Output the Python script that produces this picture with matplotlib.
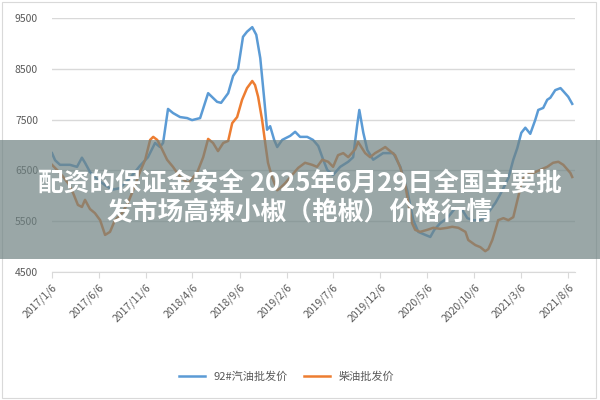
import matplotlib
matplotlib.use("Agg")
import matplotlib.pyplot as plt
import pandas as pd
from matplotlib.patches import Rectangle

# 92#汽油批发价 (blue)
gas_dates = ["2017-01-06", "2017-01-16", "2017-02-01", "2017-03-05", "2017-03-28", "2017-04-13",
             "2017-04-23", "2017-05-09", "2017-06-04", "2017-06-27", "2017-07-20", "2017-08-14",
             "2017-09-16", "2017-10-18", "2017-11-13", "2017-12-06", "2017-12-22", "2018-01-01",
             "2018-01-17", "2018-02-02", "2018-02-25", "2018-03-20", "2018-04-05", "2018-05-01",
             "2018-05-27", "2018-06-25", "2018-07-08", "2018-07-31", "2018-08-16", "2018-09-01",
             "2018-09-17", "2018-09-30", "2018-10-17", "2018-10-30", "2018-11-12", "2018-11-25",
             "2018-12-04", "2018-12-14", "2018-12-27", "2019-01-06", "2019-01-22", "2019-02-17",
             "2019-03-05", "2019-03-21", "2019-04-13", "2019-05-02", "2019-05-19", "2019-06-04",
             "2019-06-17", "2019-07-06", "2019-07-29", "2019-08-24", "2019-09-09", "2019-09-22",
             "2019-09-29", "2019-10-12", "2019-10-25", "2019-11-13", "2019-12-15", "2020-01-17",
             "2020-02-09", "2020-03-02", "2020-03-22", "2020-04-07", "2020-04-30", "2020-05-16",
             "2020-05-29", "2020-06-17", "2020-07-10", "2020-08-05", "2020-08-28", "2020-09-13",
             "2020-10-02", "2020-10-25", "2020-11-10", "2020-11-26", "2020-12-13", "2020-12-26",
             "2021-01-08", "2021-01-24", "2021-02-09", "2021-02-22", "2021-03-07", "2021-03-20",
             "2021-04-05", "2021-04-21", "2021-05-01", "2021-05-17", "2021-05-30", "2021-06-09",
             "2021-06-25", "2021-07-12", "2021-07-21", "2021-08-06", "2021-08-19"]
gas_price = [6840, 6700, 6610, 6610, 6570, 6750,
             6650, 6470, 6310, 6210, 6120, 6150,
             6350, 6590, 6760, 7040, 6960, 7040,
             7710, 7630, 7550, 7530, 7490, 7530,
             8020, 7850, 7830, 8020, 8360, 8500,
             9130, 9230, 9320, 9170, 8710, 7890,
             7300, 7370, 7100, 6960, 7100, 7180,
             7260, 7160, 7160, 7100, 6980, 6710,
             6510, 6410, 6570, 6670, 6760, 7390,
             7690, 7240, 6900, 6710, 6840, 6840,
             6570, 6110, 5520, 5290, 5230, 5190,
             5330, 5460, 5560, 5760, 5720, 5560,
             5520, 5520, 5580, 5720, 5860, 6000,
             6150, 6350, 6710, 6940, 7240, 7340,
             7220, 7490, 7690, 7730, 7890, 7930,
             8080, 8120, 8060, 7950, 7810]

# 柴油批发价 (orange)
diesel_dates = ["2017-01-06", "2017-02-01", "2017-02-27", "2017-03-15", "2017-03-31", "2017-04-13",
                "2017-04-23", "2017-05-09", "2017-05-25", "2017-06-11", "2017-06-27", "2017-07-13",
                "2017-07-29", "2017-08-21", "2017-09-09", "2017-09-26", "2017-10-18", "2017-11-04",
                "2017-11-20", "2017-11-30", "2017-12-13", "2017-12-22", "2018-01-14", "2018-02-02",
                "2018-02-25", "2018-03-23", "2018-04-21", "2018-05-11", "2018-05-27", "2018-06-12",
                "2018-06-28", "2018-07-15", "2018-07-31", "2018-08-13", "2018-08-29", "2018-09-14",
                "2018-09-30", "2018-10-17", "2018-10-26", "2018-11-05", "2018-11-18", "2018-11-28",
                "2018-12-07", "2018-12-20", "2019-01-06", "2019-01-15", "2019-02-01", "2019-02-23",
                "2019-03-15", "2019-04-06", "2019-04-29", "2019-05-15", "2019-06-01", "2019-06-20",
                "2019-07-06", "2019-07-22", "2019-08-08", "2019-08-24", "2019-09-16", "2019-09-25",
                "2019-10-18", "2019-11-03", "2019-11-19", "2019-12-06", "2019-12-22", "2020-01-07",
                "2020-01-23", "2020-02-09", "2020-02-25", "2020-03-06", "2020-03-18", "2020-03-28",
                "2020-04-13", "2020-05-06", "2020-05-26", "2020-06-17", "2020-07-10", "2020-07-26",
                "2020-08-15", "2020-09-07", "2020-09-16", "2020-10-09", "2020-10-25", "2020-11-10",
                "2020-11-20", "2020-12-03", "2020-12-13", "2020-12-22", "2021-01-08", "2021-01-24",
                "2021-02-09", "2021-02-25", "2021-03-10", "2021-03-26", "2021-04-15", "2021-05-07",
                "2021-05-30", "2021-06-18", "2021-07-05", "2021-07-21", "2021-08-13", "2021-08-19"]
diesel_price = [6610, 6450, 6250, 6060, 5820, 5780,
                5920, 5740, 5660, 5520, 5230, 5290,
                5520, 5660, 5860, 6110, 6470, 6710,
                7100, 7160, 7100, 7000, 6710, 6570,
                6370, 6250, 6450, 6760, 7120, 7040,
                6880, 7040, 7080, 7430, 7550, 7890,
                8120, 8260, 8180, 7950, 7490, 7040,
                6650, 6370, 6110, 6150, 6250, 6410,
                6550, 6650, 6610, 6570, 6710, 6670,
                6570, 6800, 6840, 6760, 6920, 7060,
                6840, 6760, 6840, 6900, 6960, 6880,
                6800, 6550, 6210, 5860, 5460, 5330,
                5290, 5330, 5370, 5350, 5370, 5390,
                5370, 5290, 5130, 5030, 4990, 4910,
                4950, 5130, 5330, 5520, 5560, 5520,
                5580, 5980, 6310, 6450, 6450, 6510,
                6570, 6650, 6670, 6610, 6450, 6370]

tick_dates = ["2017-01-06", "2017-06-06", "2017-11-06", "2018-04-06", "2018-09-06", "2019-02-06",
              "2019-07-06", "2019-12-06", "2020-05-06", "2020-10-06", "2021-03-06", "2021-08-06"]
tick_labels = ["2017/1/6", "2017/6/6", "2017/11/6", "2018/4/6", "2018/9/6", "2019/2/6",
               "2019/7/6", "2019/12/6", "2020/5/6", "2020/10/6", "2021/3/6", "2021/8/6"]
y_ticks = [4500, 5500, 6500, 7500, 8500, 9500]

banner = "配资的保证金安全 2025年6月29日全国主要批\n发市场高辣小椒（艳椒）价格行情"

plt.rcParams["font.family"] = ["Noto Sans CJK SC", "DejaVu Sans"]

fig = plt.figure(figsize=(6, 4), dpi=100)
ax = fig.add_axes([52 / 600, 0.32, 523 / 600, 0.635])

ax.plot(pd.to_datetime(gas_dates), gas_price, color="#5b9bd5", lw=1.8, label="92#汽油批发价")
ax.plot(pd.to_datetime(diesel_dates), diesel_price, color="#ed7d31", lw=1.8, label="柴油批发价")

ax.set_ylim(4500, 9500)
ax.set_yticks(y_ticks)
ax.set_yticklabels([str(v) for v in y_ticks], fontsize=7.5, color="#595959")
ax.set_xlim(pd.Timestamp("2017-01-06"), pd.Timestamp("2021-08-28"))
ax.set_xticks(pd.to_datetime(tick_dates))
ax.set_xticklabels(tick_labels, rotation=45, ha="right", rotation_mode="anchor",
                   fontsize=7.5, color="#595959")
ax.tick_params(axis="y", length=0, pad=10)
ax.tick_params(axis="x", length=4, color="#d9d9d9", pad=3)
ax.grid(axis="y", color="#d9d9d9", lw=1)
ax.set_axisbelow(True)
for s in ["top", "right", "left"]:
    ax.spines[s].set_visible(False)
ax.spines["bottom"].set_color("#d9d9d9")

fig.legend(loc="center", bbox_to_anchor=(0.478, 0.058), ncol=2, frameon=False,
           fontsize=8, handlelength=2.3, columnspacing=1.5, labelcolor="#595959")

# outer frame
fig.patches.append(Rectangle((0.004, 0.006), 0.99, 0.99, transform=fig.transFigure,
                             fill=False, edgecolor="#d9d9d9", lw=0.8))
# overlay banner
fig.patches.append(Rectangle((0, 1 - 259 / 400), 1, 119 / 400, transform=fig.transFigure,
                             facecolor="#6f8282", alpha=0.7, edgecolor="none", zorder=5))
fig.text(0.5, 1 - 198 / 400, banner, ha="center", va="center", color="white",
         fontsize=18.5, fontweight="bold", linespacing=1.15, zorder=6)

fig.savefig("out.png", dpi=100)
